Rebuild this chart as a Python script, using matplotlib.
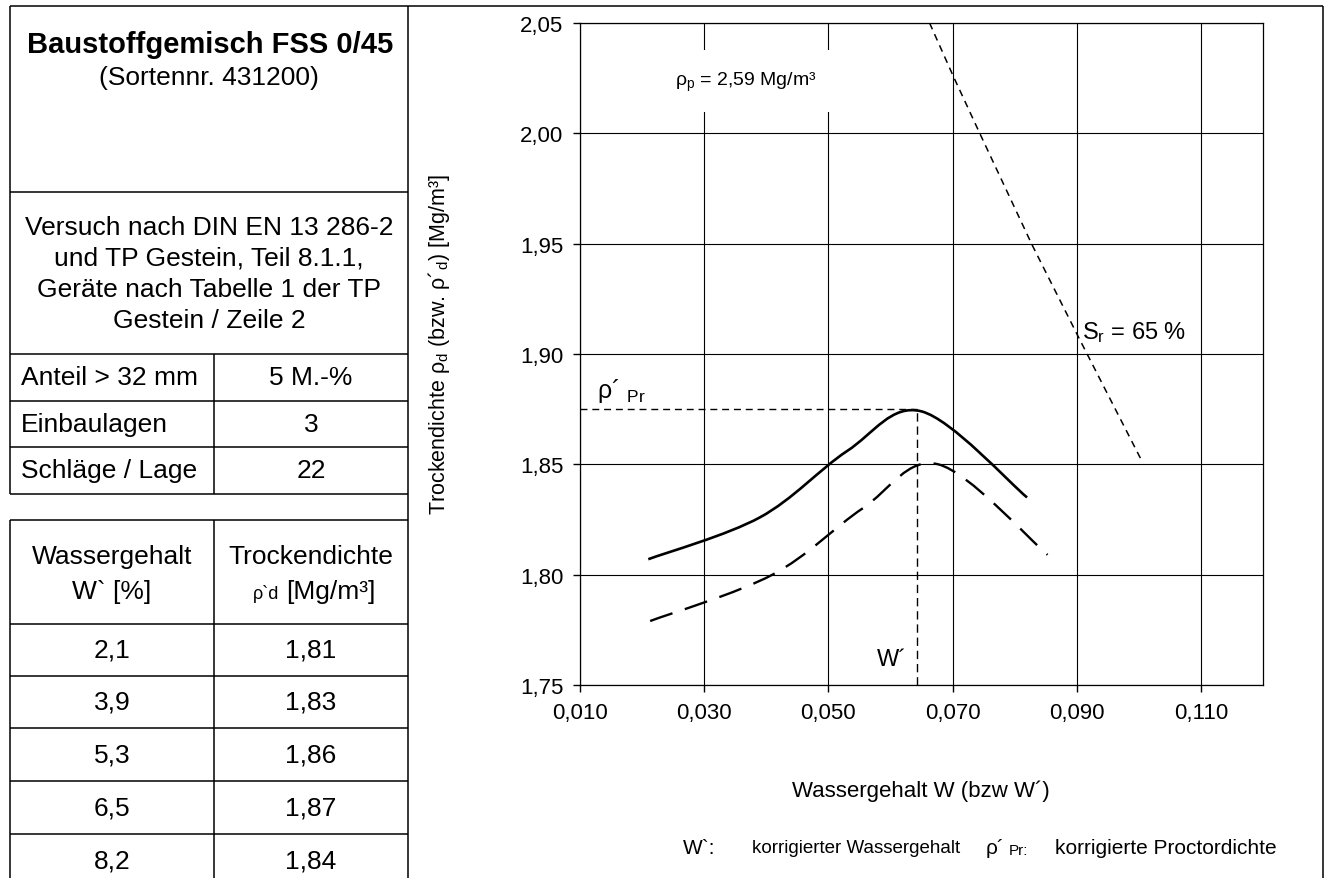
import numpy as np
import matplotlib
matplotlib.use("Agg")
import matplotlib.pyplot as plt
from matplotlib.path import Path
from matplotlib.patches import PathPatch
from matplotlib import font_manager

# ---------------- data ----------------
# left-panel table
table_w = ["2,1", "3,9", "5,3", "6,5", "8,2"]
table_rho = ["1,81", "1,83", "1,86", "1,87", "1,84"]
info_labels = ["Anteil > 32 mm", "Einbaulagen", "Schläge / Lage"]
info_values = ["5 M.-%", "3", "22"]

# corrected compaction curve (solid)
corr_w = [0.021, 0.039, 0.053, 0.065, 0.082]
corr_rho = [1.807, 1.826, 1.856, 1.874, 1.835]
# uncorrected compaction curve (dashed)
unc_w = [0.0213, 0.0410, 0.0555, 0.0677, 0.0853]
unc_rho = [1.779, 1.800, 1.830, 1.850, 1.809]
# saturation line Sr = 65 %
sat_w = [0.0663, 0.0701, 0.0743, 0.0828, 0.0904, 0.1004]
sat_rho = [2.050, 2.026, 2.0005, 1.9495, 1.907, 1.852]
# optimum (corrected Proctor density / water content)
rho_pr = 1.875
w_opt = 0.0643

x_ticks = [0.010, 0.030, 0.050, 0.070, 0.090, 0.110]
x_tick_labels = ["0,010", "0,030", "0,050", "0,070", "0,090", "0,110"]
y_ticks = [1.75, 1.80, 1.85, 1.90, 1.95, 2.00, 2.05]
y_tick_labels = ["1,75", "1,80", "1,85", "1,90", "1,95", "2,00", "2,05"]

# ---------------- fonts ----------------
names = {f.name for f in font_manager.fontManager.ttflist}
SANS = "Liberation Sans" if "Liberation Sans" in names else "DejaVu Sans"
plt.rcParams["font.family"] = [SANS, "DejaVu Sans"]
plt.rcParams["mathtext.fontset"] = "custom"
plt.rcParams["mathtext.rm"] = SANS
plt.rcParams["mathtext.it"] = SANS + ":italic"
plt.rcParams["mathtext.bf"] = SANS + ":bold"

W, H = 1326, 879
fig = plt.figure(figsize=(W / 100, H / 100), dpi=100)

# overlay in pixel coordinates for frames / table
ov = fig.add_axes([0, 0, 1, 1], zorder=0)
ov.set_xlim(0, W)
ov.set_ylim(H, 0)
ov.axis("off")

LW = 1.1
def hl(y, x0, x1):
    ov.plot([x0, x1], [y, y], color="black", lw=LW, solid_capstyle="butt")
def vl(x, y0, y1):
    ov.plot([x, x], [y0, y1], color="black", lw=LW, solid_capstyle="butt")

xl, xd, xm, xr = 10, 408, 214, 1323
ytop = 7
hl(ytop, xl, xr)
vl(xr, ytop, H + 10)
vl(xd, ytop, H + 10)
vl(xl, ytop, 495)
for y in [193, 355, 402, 448, 495]:
    hl(y, xl, xd)
vl(xm, 355, 495)
# lower table
vl(xl, 521, H + 10)
vl(xm, 521, H + 10)
row_lines = [521, 625, 677, 729, 782, 835]
for y in row_lines:
    hl(y, xl, xd)

FS = 19
ov.text((xl + xd) / 2 + 1, 45, "Baustoffgemisch FSS 0/45", ha="center", va="center",
        fontsize=21, fontweight="bold")
ov.text((xl + xd) / 2, 78, "(Sortennr. 431200)", ha="center", va="center", fontsize=FS)
para = ["Versuch nach DIN EN 13 286-2", "und TP Gestein, Teil 8.1.1,",
        "Geräte nach Tabelle 1 der TP", "Gestein / Zeile 2"]
for i, s in enumerate(para):
    ov.text((xl + xd) / 2, 228 + i * 31, s, ha="center", va="center", fontsize=FS)
for i, (lab, val) in enumerate(zip(info_labels, info_values)):
    yc = [378, 425, 471][i]
    ov.text(21, yc, lab, ha="left", va="center", fontsize=FS)
    ov.text((xm + xd) / 2, yc, val, ha="center", va="center", fontsize=FS)

ov.text((xl + xm) / 2, 557, "Wassergehalt", ha="center", va="center", fontsize=FS)
ov.text((xl + xm) / 2, 592, "W` [%]", ha="center", va="center", fontsize=FS)
ov.text((xm + xd) / 2, 557, "Trockendichte", ha="center", va="center", fontsize=FS)
ov.text(279, 594, "ρ`d", ha="right", va="center", fontsize=13)
ov.text(286, 592, "[Mg/m³]", ha="left", va="center", fontsize=FS)
for i, (a, b) in enumerate(zip(table_w, table_rho)):
    yc = (row_lines[i + 1] + (row_lines[i + 2] if i + 2 < len(row_lines) else 888)) / 2
    ov.text((xl + xm) / 2, yc, a, ha="center", va="center", fontsize=FS)
    ov.text((xm + xd) / 2, yc, b, ha="center", va="center", fontsize=FS)

# bottom legend row
ov.text(683, 849, "W`:", ha="left", va="center", fontsize=15)
ov.text(752, 849, "korrigierter Wassergehalt", ha="left", va="center", fontsize=13.5)
ov.text(986, 849, "ρ´", ha="left", va="center", fontsize=15)
ov.text(1009, 851, "Pr:", ha="left", va="center", fontsize=11)
ov.text(1055, 849, "korrigierte Proctordichte", ha="left", va="center", fontsize=15)

# ---------------- chart ----------------
L, R, T, B = 580, 1263, 24, 686
ax = fig.add_axes([L / W, 1 - B / H, (R - L) / W, (B - T) / H], zorder=1)
ax.patch.set_alpha(0)
ax.set_xlim(0.010, 0.120)
ax.set_ylim(1.75, 2.05)
ax.set_xticks(x_ticks)
ax.set_xticklabels(x_tick_labels)
ax.set_yticks(y_ticks)
ax.set_yticklabels(y_tick_labels)
ax.tick_params(direction="out", length=5, width=1, labelsize=16, pad=7, colors="black")
ax.grid(True, color="black", lw=0.8)
ax.set_axisbelow(True)
for sp in ax.spines.values():
    sp.set_color("black")
    sp.set_linewidth(0.9)

ax.set_xlabel("Wassergehalt W (bzw W´)", fontsize=16)
ax.xaxis.set_label_coords((921 - L) / (R - L), (B - 781) / (B - T))
ax.set_ylabel("Trockendichte ρ$_\\mathrm{d}$ (bzw. ρ´$_\\mathrm{d}$) [Mg/m³]", fontsize=15.5)
ax.yaxis.set_label_coords((452 - L) / (R - L), (B - 345) / (B - T))


def smooth_path(xs, ys):
    pts = np.column_stack([xs, ys]).astype(float)
    n = len(pts)
    verts = [pts[0]]
    codes = [Path.MOVETO]
    for i in range(n - 1):
        p0 = pts[i - 1] if i > 0 else pts[i]
        p1, p2 = pts[i], pts[i + 1]
        p3 = pts[i + 2] if i + 2 < n else pts[i + 1]
        verts += [p1 + (p2 - p0) / 6, p2 - (p3 - p1) / 6, p2]
        codes += [Path.CURVE4] * 3
    return Path(verts, codes)


ax.add_patch(PathPatch(smooth_path(corr_w, corr_rho), fill=False, lw=1.9,
                       edgecolor="black", transform=ax.transData, zorder=4))
ax.add_patch(PathPatch(smooth_path(unc_w, unc_rho), fill=False, lw=1.7,
                       edgecolor="black", linestyle=(0, (10, 5.5)),
                       transform=ax.transData, zorder=4))
ax.plot(sat_w, sat_rho, color="black", lw=1.1, linestyle=(0, (4.5, 3.5)), zorder=4)
ax.plot([0.010, w_opt], [rho_pr, rho_pr], color="black", lw=1.0,
        linestyle=(0, (5, 3.5)), zorder=4)
ax.plot([w_opt, w_opt], [1.75, rho_pr], color="black", lw=1.0,
        linestyle=(0, (6, 3.5)), zorder=4)

ax.text(0.0367, 2.0236, "ρ$_\\mathrm{p}$ = 2,59 Mg/m³", ha="center", va="center",
        fontsize=14, zorder=5,
        bbox=dict(boxstyle="square,pad=1.0", facecolor="white", edgecolor="none"))
ax.text(0.0909, 1.910, "S$_\\mathrm{r}$ = 65 %", ha="left", va="center", fontsize=17, zorder=5)
ax.text(0.0127, 1.8835, "ρ´ $_\\mathrm{Pr}$", ha="left", va="center", fontsize=18, zorder=5)
ax.text(0.0603, 1.762, "W´", ha="center", va="center", fontsize=17, zorder=5)

fig.savefig("out.png", dpi=100)
